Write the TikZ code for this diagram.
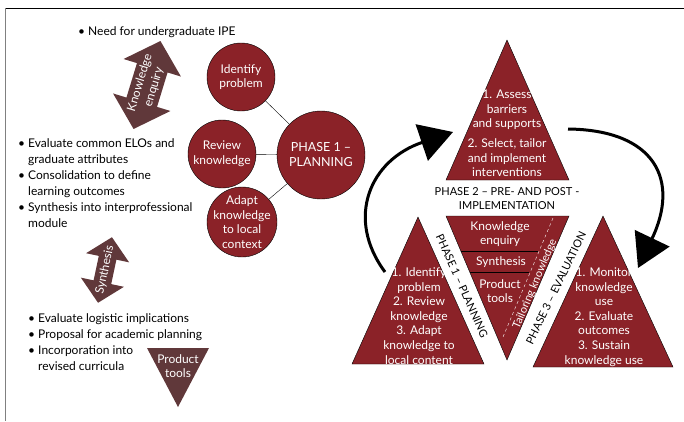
\documentclass[tikz,border=0pt]{standalone}
\usepackage{fontspec}
\setmainfont{Lato}
\usetikzlibrary{arrows.meta}
\definecolor{phasered}{RGB}{139,34,40}
\definecolor{enquirybrown}{RGB}{96,56,58}
\newcommand*{\xMin}{0}
\newcommand*{\xMax}{684}
\newcommand*{\yMin}{0}
\newcommand*{\yMax}{421}
\newcommand*{\bodyfont}{\fontsize{12}{16}\selectfont}
\newcommand*{\trifont}{\fontsize{12}{14.6}\selectfont}
% length, head length, head half width, shaft half width
\newcommand*{\dblarrow}[4]{(-#1/2,0) -- ++(#2,#3) -- ++(0,#4-#3) -- (#1/2-#2,#4) -- ++(0,#3-#4) -- (#1/2,0) -- ++(-#2,-#3) -- ++(0,#3-#4) -- (-#1/2+#2,-#4) -- ++(0,#4-#3) -- cycle}
\tikzset{
  phase circle/.style={circle, draw=black, thin, fill=phasered, text=white, align=center, inner sep=0pt, font=\trifont},
  phase tri/.style={draw=black, thin, fill=phasered},
  white text/.style={text=white, align=center, font=\trifont, inner sep=0pt},
  black text/.style={text=black, align=center, font=\trifont, inner sep=0pt},
  bullet list/.style={align=left, anchor=west, font=\bodyfont, inner sep=0pt},
  cycle arrow/.style={line width=3pt, -{Triangle[length=33pt,width=38pt]}},
}
\begin{document}
\begin{tikzpicture}[x=1pt, y=-1pt]
  \useasboundingbox (\xMin,\yMin) rectangle (\xMax,\yMax);
  \draw[thin] (5,8) -- (\xMax,8);
  \draw[gray, thin] (5,8) -- (5,\yMax);

  % left column
  \node[bullet list] (need) at (78,32) {\textbullet\ Need for undergraduate IPE};
  \fill[enquirybrown, shift={(147,85)}, rotate=73] \dblarrow{92}{28}{30}{16};
  \node[white text, rotate=73] (enquiry) at (147,85) {Knowledge\\enquiry};
  \node[bullet list] (elos) at (18,183) {\textbullet\ Evaluate common ELOs and\\\phantom{\textbullet\ }graduate attributes\\\textbullet\ Consolidation to define\\\phantom{\textbullet\ }learning outcomes\\\textbullet\ Synthesis into interprofessional\\\phantom{\textbullet\ }module};
  \fill[enquirybrown, shift={(105,270)}, rotate=78] \dblarrow{67}{21}{22}{9};
  \node[white text, rotate=78] (synthesis) at (105,270) {Synthesis};
  \node[bullet list] (logistic) at (28,342) {\textbullet\ Evaluate logistic implications\\\textbullet\ Proposal for academic planning\\\textbullet\ Incorporation into\\\phantom{\textbullet\ }revised curricula};
  \fill[enquirybrown] (147,348) -- (209,348) -- (178,407) -- cycle;
  \node[white text] (products) at (178,366) {Product\\tools};

  % phase 1 circles
  \node[phase circle, minimum size=88pt, font=\fontsize{12.5}{15}\selectfont] (planning) at (321,155) {PHASE 1 –\\PLANNING};
  \node[phase circle, minimum size=68pt] (identify) at (241,77) {Identify\\problem};
  \node[phase circle, minimum size=68pt] (review) at (222,154) {};
  \node[white text] (review text) at (review) {Review\\knowledge};
  \node[phase circle, minimum size=70pt] (adapt) at (242,222) {};
  \node[white text] (adapt text) at (adapt) {Adapt\\knowledge\\to local\\context};
  \foreach \n in {identify,review,adapt}
    \draw[thin] (planning) -- (\n);

  % phase 2
  \filldraw[phase tri] (507,40) -- (569,180) -- (446,180) -- cycle;
  \node[white text] (assess) at (507,133.5) {1. Assess\\barriers\\and supports\\[5pt]2. Select, tailor\\and implement\\interventions};
  \node[black text, font=\fontsize{11}{14}\selectfont] (phase two) at (507,199) {PHASE 2 – PRE- AND POST -\\IMPLEMENTATION};

  % tailoring knowledge
  \filldraw[phase tri] (446,216) -- (569,216) -- (507,360) -- cycle;
  \foreach \ya/\xa/\xb in {251/460.8/538.4, 272/469.7/529.2}
    \draw[thin] (\xa,\ya) -- (\xb,\ya);
  \draw[white, dashed, thin] (553,218) -- (503,337);
  \node[white text] (enquiry inner) at (500,234) {Knowledge\\enquiry};
  \node[white text] (synthesis inner) at (501,262) {Synthesis};
  \node[white text] (products inner) at (500,291) {Product\\tools};
  \node[white text, font=\fontsize{11}{13}\selectfont, rotate=67] (tailoring) at (535,284) {Tailoring knowledge};

  % phase 1 and phase 3
  \filldraw[phase tri] (418,217) -- (484,364) -- (352,364) -- cycle;
  \node[white text] (identify inner) at (419,316) {1. Identify\\problem\\2. Review\\knowledge\\3. Adapt\\knowledge to\\local content};
  \node[black text, font=\fontsize{11}{14}\selectfont, rotate=-66] (phase one) at (462,286) {PHASE 1 – PLANNING};
  \filldraw[phase tri] (603,216) -- (673,367) -- (533,367) -- cycle;
  \node[white text] (monitor) at (604,317) {1. Monitor\\knowledge\\use\\2. Evaluate\\outcomes\\3. Sustain\\knowledge use};
  \node[black text, font=\fontsize{11}{14}\selectfont, rotate=64] (phase three) at (556,288) {PHASE 3 – EVALUATION};

  % cycle
  \coordinate (cycle a start) at (385,272);
  \coordinate (cycle a end) at (453,132);
  \draw[cycle arrow] (cycle a start) .. controls (345,218) and (370,160) .. (cycle a end);
  \coordinate (cycle b start) at (568,129);
  \coordinate (cycle b end) at (638,268);
  \draw[cycle arrow] (cycle b start) .. controls (655,130) and (680,180) .. (cycle b end);
\end{tikzpicture}
\end{document}
